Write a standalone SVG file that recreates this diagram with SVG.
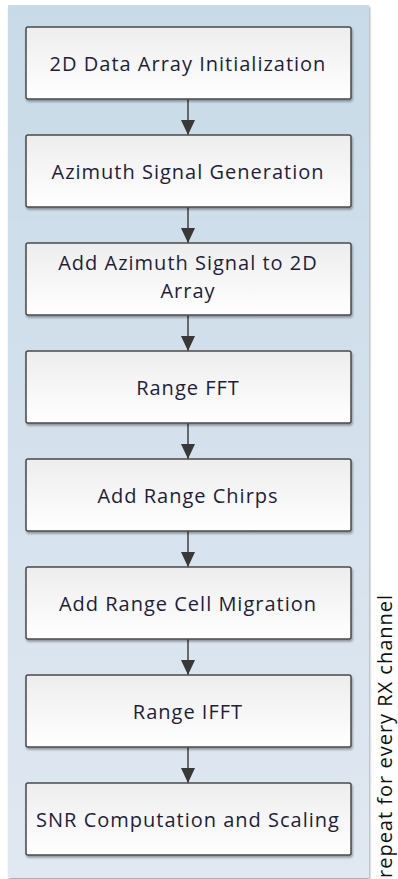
<svg xmlns="http://www.w3.org/2000/svg" width="398" height="879" viewBox="0 0 398 879">
<defs>
<linearGradient id="bg" x1="0" y1="0" x2="0" y2="1">
<stop offset="0" stop-color="#c8dae8"/>
<stop offset="1" stop-color="#e0e8f1"/>
</linearGradient>
<linearGradient id="box" x1="0" y1="0" x2="0" y2="1">
<stop offset="0" stop-color="#ededed"/>
<stop offset="1" stop-color="#ffffff"/>
</linearGradient>
<filter id="sh" x="-10%" y="-10%" width="120%" height="130%">
<feGaussianBlur in="SourceAlpha" stdDeviation="1.2"/>
<feOffset dx="1" dy="1.5"/>
<feComponentTransfer><feFuncA type="linear" slope="0.35"/></feComponentTransfer>
<feMerge><feMergeNode/><feMergeNode in="SourceGraphic"/></feMerge>
</filter>
<marker id="ah" markerWidth="15" markerHeight="14" refX="15" refY="7" orient="auto" markerUnits="userSpaceOnUse">
<path d="M0,0 L15,7 L0,14 Z" fill="#383838"/>
</marker>
</defs>
<style>
.n rect{fill:url(#box);stroke:#4a4a4a;stroke-width:1.5;filter:url(#sh)}
.n text{font-family:"Open Sans","Noto Sans",sans-serif;font-size:20px;letter-spacing:1px;fill:#1e1e3c;text-anchor:middle}
.c line{stroke:#404040;stroke-width:1.5;marker-end:url(#ah)}
</style>
<rect id="container" x="8" y="5" width="361" height="873" fill="url(#bg)" filter="url(#sh)"/>
<g class="c" id="connectors">
<line x1="188" y1="99" x2="188" y2="135"/>
<line x1="188" y1="207" x2="188" y2="243"/>
<line x1="188" y1="315" x2="188" y2="351"/>
<line x1="188" y1="423" x2="188" y2="459"/>
<line x1="188" y1="531" x2="188" y2="567"/>
<line x1="188" y1="639" x2="188" y2="675"/>
<line x1="188" y1="747" x2="188" y2="783"/>
</g>
<g class="n" id="n1"><rect x="26" y="27" width="325" height="72" rx="2"/><text x="188" y="70.5">2D Data Array Initialization</text></g>
<g class="n" id="n2"><rect x="26" y="135" width="325" height="72" rx="2"/><text x="188" y="178.5">Azimuth Signal Generation</text></g>
<g class="n" id="n3"><rect x="26" y="243" width="325" height="72" rx="2"/><text x="188" y="270">Add Azimuth Signal to 2D</text><text x="188" y="298">Array</text></g>
<g class="n" id="n4"><rect x="26" y="351" width="325" height="72" rx="2"/><text x="188" y="394.5">Range FFT</text></g>
<g class="n" id="n5"><rect x="26" y="459" width="325" height="72" rx="2"/><text x="188" y="502.5">Add Range Chirps</text></g>
<g class="n" id="n6"><rect x="26" y="567" width="325" height="72" rx="2"/><text x="188" y="610.5">Add Range Cell Migration</text></g>
<g class="n" id="n7"><rect x="26" y="675" width="325" height="72" rx="2"/><text x="188" y="718.5">Range IFFT</text></g>
<g class="n" id="n8"><rect x="26" y="783" width="325" height="72" rx="2"/><text x="188" y="826.5">SNR Computation and Scaling</text></g>
<text transform="translate(392,878) rotate(-90)" font-family="Open Sans, Noto Sans, sans-serif" font-size="20" letter-spacing="1" fill="#111">repeat for every RX channel</text>
</svg>
